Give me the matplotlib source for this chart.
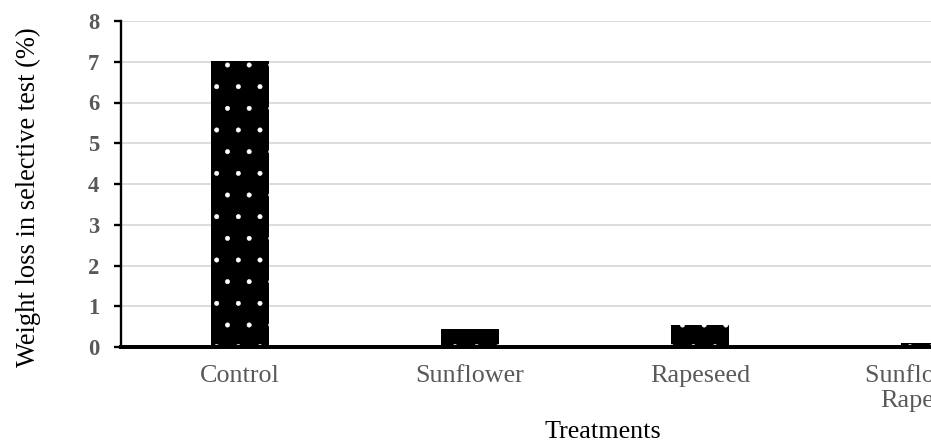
import matplotlib
matplotlib.use("Agg")
import matplotlib.pyplot as plt

# Data
treatments = ['Control', 'Sunflower', 'Rapeseed', 'Sunflower +\nRapeseed']
weight_loss = [7.02, 0.44, 0.53, 0.10]
y_ticks = [0, 1, 2, 3, 4, 5, 6, 7, 8]

plt.rcParams['font.family'] = ['Liberation Serif', 'DejaVu Serif']
plt.rcParams['hatch.linewidth'] = 0.3

dpi = 130
fig = plt.figure(figsize=(931 / dpi, 448 / dpi), dpi=dpi)
# axes runs past the right edge, like the cropped original
ax = fig.add_axes([121 / 931, 101 / 448, 920 / 931, 326 / 448])

x = range(len(treatments))
ax.bar(x, weight_loss, width=0.25, color='black', edgecolor='white',
       linewidth=0, hatch='.', zorder=3)

ax.set_xlim(-0.517, len(treatments) - 0.517)
ax.set_ylim(0, 8)
ax.set_yticks(y_ticks)
ax.set_xticks(list(x))
ax.set_xticklabels(treatments)

ax.grid(axis='y', color='#d9d9d9', linewidth=1.0, zorder=0)
ax.set_axisbelow(True)

for s in ['top', 'right']:
    ax.spines[s].set_visible(False)
ax.spines['left'].set_linewidth(1.3)
ax.spines['left'].set_zorder(4)
ax.spines['bottom'].set_linewidth(2.2)
ax.spines['bottom'].set_zorder(4)

ax.tick_params(axis='y', length=4, width=1.3, colors='black', pad=8,
               labelsize=12.5, labelcolor='#595959')
ax.tick_params(axis='x', length=0, pad=10, labelsize=14.5, labelcolor='#595959')
for lbl in ax.get_yticklabels():
    lbl.set_fontweight('bold')

ax.set_ylabel('Weight loss in selective test (%)', fontsize=14.7)
ax.yaxis.set_label_coords(-0.087, 0.46)
ax.set_xlabel('Treatments', fontsize=14.5)
ax.xaxis.set_label_coords(0.524, -0.228)

fig.savefig('out.png', dpi=dpi)
